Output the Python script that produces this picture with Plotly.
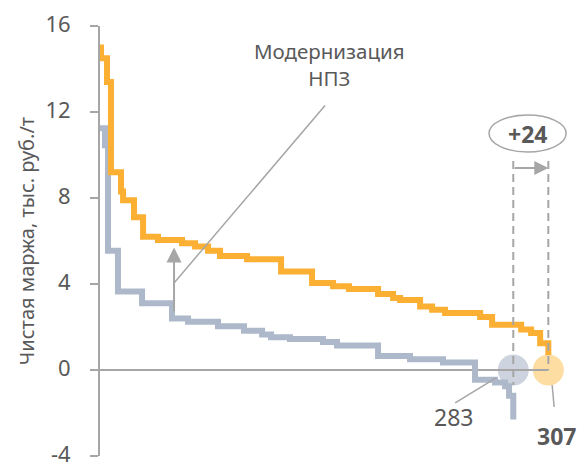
import plotly.graph_objects as go

# Cumulative refining volume (segment start points) and net margin, thous. rub/t
orange_volume = [0, 0.7, 4.8, 7.5, 14.4, 15.8, 23.3, 29.5, 39.7, 56.2, 65.1, 74.0,
                 82.2, 100.7, 124.0, 145.2, 159.6, 170.5, 190.4, 200.7, 205.5,
                 219.2, 227.4, 236.3, 260.3, 268.5, 288.4, 295.2, 301.4, 307]
orange_margin = [15.0, 14.5, 13.4, 9.2, 8.3, 7.9, 7.1, 6.2, 6.05, 5.9, 5.75, 5.55,
                 5.3, 5.15, 4.58, 4.05, 3.9, 3.77, 3.53, 3.35, 3.26,
                 2.95, 2.8, 2.65, 2.47, 2.1, 1.88, 1.72, 1.25, 0.7]

gray_volume = [0, 3.4, 5.5, 12.3, 28.8, 49.3, 60.3, 80.8, 98.6, 111.0, 117.1,
               130.1, 152.7, 162.3, 190.4, 212.3, 234.9, 256.8, 270.5, 277.4,
               280.1, 283]
gray_margin = [11.25, 10.45, 5.55, 3.65, 3.1, 2.4, 2.25, 2.03, 1.83, 1.65, 1.52,
               1.44, 1.3, 1.14, 0.65, 0.5, 0.35, -0.45, -0.58, -0.75,
               -1.2, -2.3]

y_ticks = [-4, 0, 4, 8, 12, 16]
y_tick_text = ["-4", "0", "4", "8", "12", "16"]
before_total = 283
after_total = 307
gain_label = "+24"

ORANGE = "#FBB034"
GRAY = "#ADB9CA"
AXIS = "#A6A6A6"
TEXT = "#595959"
FONT = "Noto Sans"

fig = go.Figure()

# volume markers on the zero line
fig.add_trace(go.Scatter(x=[before_total], y=[0], mode="markers",
                         marker=dict(size=31, color="#CDD4DF"),
                         cliponaxis=False, hoverinfo="skip"))
fig.add_trace(go.Scatter(x=[after_total], y=[0], mode="markers",
                         marker=dict(size=31, color="#FDDDA2"),
                         cliponaxis=False, hoverinfo="skip"))

# zero line
fig.add_trace(go.Scatter(x=[0, after_total], y=[0, 0], mode="lines",
                         line=dict(color=AXIS, width=2),
                         cliponaxis=False, hoverinfo="skip"))

# margin curves
fig.add_trace(go.Scatter(x=gray_volume, y=gray_margin, mode="lines",
                         line=dict(color=GRAY, width=6, shape="hv"),
                         cliponaxis=False))
fig.add_trace(go.Scatter(x=orange_volume, y=orange_margin, mode="lines",
                         line=dict(color=ORANGE, width=6, shape="hv"),
                         cliponaxis=False))

# dashed guides at total volumes
fig.add_trace(go.Scatter(x=[before_total, before_total], y=[9.72, -0.7], mode="lines",
                         line=dict(color=AXIS, width=2, dash="8px,5px"),
                         cliponaxis=False, hoverinfo="skip"))
fig.add_trace(go.Scatter(x=[after_total, after_total], y=[9.72, 0], mode="lines",
                         line=dict(color=AXIS, width=2, dash="8px,5px"),
                         cliponaxis=False, hoverinfo="skip"))

# horizontal arrow between the guides
fig.add_annotation(x=after_total, y=9.4, ax=before_total, ay=9.4,
                   xref="x", yref="y", axref="x", ayref="y", text="",
                   showarrow=True, arrowhead=2, arrowsize=1.4, arrowwidth=2,
                   arrowcolor=AXIS)

# ellipse with the volume gain
fig.add_shape(type="circle", xref="x", yref="y", x0=266.4, x1=319.2,
              y0=10.14, y1=11.86, line=dict(color=AXIS, width=1.5))
fig.add_annotation(x=292.8, y=11.0, xref="x", yref="y", text="<b>%s</b>" % gain_label,
                   showarrow=False, font=dict(family=FONT, size=23, color=TEXT))

# modernization arrow and callout
fig.add_annotation(x=50.7, y=5.7, ax=50.7, ay=2.65,
                   xref="x", yref="y", axref="x", ayref="y", text="",
                   showarrow=True, arrowhead=2, arrowsize=1.5, arrowwidth=2,
                   arrowcolor=AXIS)
fig.add_shape(type="line", xref="x", yref="y", x0=50.7, y0=4.05, x1=154.1, y1=12.3,
              line=dict(color=AXIS, width=1.5))
fig.add_annotation(x=157, y=14.2, xref="x", yref="y",
                   text="Модернизация<br>НПЗ", showarrow=False,
                   font=dict(family=FONT, size=20.5, color=TEXT), align="center")

# volume labels
fig.add_shape(type="line", xref="x", yref="y", x0=243.2, y0=-1.53, x1=271.2, y1=-0.37,
              line=dict(color=AXIS, width=1.5))
fig.add_annotation(x=241.8, y=-2.2, xref="x", yref="y", text=str(before_total),
                   showarrow=False, font=dict(family=FONT, size=23, color=TEXT))
fig.add_shape(type="line", xref="x", yref="y", x0=309.6, y0=-0.70, x1=311.0, y1=-1.72,
              line=dict(color=AXIS, width=1.5))
fig.add_annotation(x=312.3, y=-3.07, xref="x", yref="y", text="<b>%s</b>" % after_total,
                   showarrow=False, font=dict(family=FONT, size=23, color=TEXT))

fig.update_layout(
    width=579, height=462,
    margin=dict(l=100, r=0, t=26, b=6),
    plot_bgcolor="white", paper_bgcolor="white",
    showlegend=False,
    font=dict(family=FONT, color=TEXT),
    xaxis=dict(range=[0, 328], visible=False, showgrid=False, zeroline=False,
               automargin=False),
    yaxis=dict(range=[-4, 16], tickvals=y_ticks, ticktext=y_tick_text,
               showgrid=False, zeroline=False, automargin=False,
               showline=True, linecolor=AXIS, linewidth=2,
               ticks="outside", ticklen=8, tickwidth=2, tickcolor=AXIS,
               ticklabelstandoff=15, ticklabeloverflow="allow", ticklabelshift=-2,
               tickfont=dict(family=FONT, size=22, color=TEXT),
               title=dict(text="Чистая маржа, тыс. руб./т", standoff=5,
                          font=dict(family=FONT, size=20, color=TEXT))),
)

fig.write_html("out.html")
